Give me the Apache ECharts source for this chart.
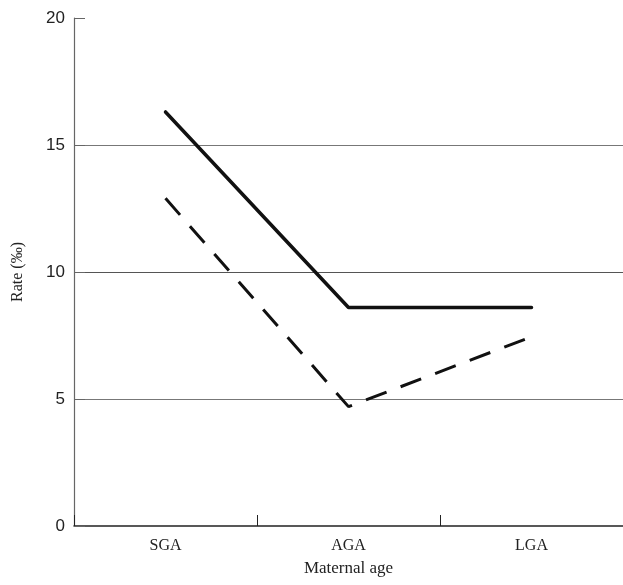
<!DOCTYPE html>
<html>
<head>
<meta charset="utf-8">
<script src="https://cdn.jsdelivr.net/npm/echarts@6/dist/echarts.min.js"></script>
<style>html,body{margin:0;padding:0;background:#fff}#c{width:623px;height:585px}</style>
</head>
<body>
<div id="c"></div>
<script>
var categories = ['SGA', 'AGA', 'LGA'];
var solidValues = [16.3, 8.6, 8.6];
var dashedValues = [12.9, 4.7, 7.45];
var yTicks = [0, 5, 10, 15, 20];

var chart = echarts.init(document.getElementById('c'), null, {renderer: 'canvas'});
chart.setOption({
  animation: false,
  backgroundColor: '#fff',
  grid: {left: 74, right: 0, top: 18, bottom: 59, containLabel: false},
  xAxis: {
    type: 'category',
    data: categories,
    boundaryGap: true,
    name: 'Maternal age',
    nameLocation: 'middle',
    nameGap: 34,
    nameTextStyle: {fontFamily: 'Liberation Serif', fontSize: 17, color: '#222'},
    axisLine: {lineStyle: {color: '#222', width: 1.5}},
    axisTick: {show: true, inside: true, length: 11, alignWithLabel: false, lineStyle: {color: '#222', width: 1}},
    axisLabel: {fontFamily: 'Liberation Serif', fontSize: 16, color: '#222', margin: 12},
    splitLine: {show: false}
  },
  yAxis: {
    type: 'value',
    min: yTicks[0],
    max: yTicks[yTicks.length - 1],
    interval: 5,
    name: 'Rate (‰)',
    nameLocation: 'middle',
    nameGap: 48,
    nameRotate: 90,
    nameTextStyle: {fontFamily: 'Liberation Serif', fontSize: 16, color: '#222'},
    axisLine: {show: true, lineStyle: {color: '#666', width: 1.2}},
    axisTick: {show: true, inside: true, length: 11, lineStyle: {color: '#666', width: 1}},
    axisLabel: {fontFamily: 'Liberation Sans', fontSize: 17, color: '#222', margin: 9},
    splitLine: {show: true, lineStyle: {color: ['rgba(0,0,0,0)', '#777', '#555', '#777', 'rgba(0,0,0,0)'], width: 1.2}}
  },
  series: [
    {
      type: 'line',
      data: solidValues,
      symbol: 'none',
      lineStyle: {color: '#111', width: 3.5, type: 'solid', cap: 'round'}
    },
    {
      type: 'line',
      data: dashedValues,
      symbol: 'none',
      lineStyle: {color: '#111', width: 3, type: [22, 15]}
    }
  ]
});
</script>
</body>
</html>
